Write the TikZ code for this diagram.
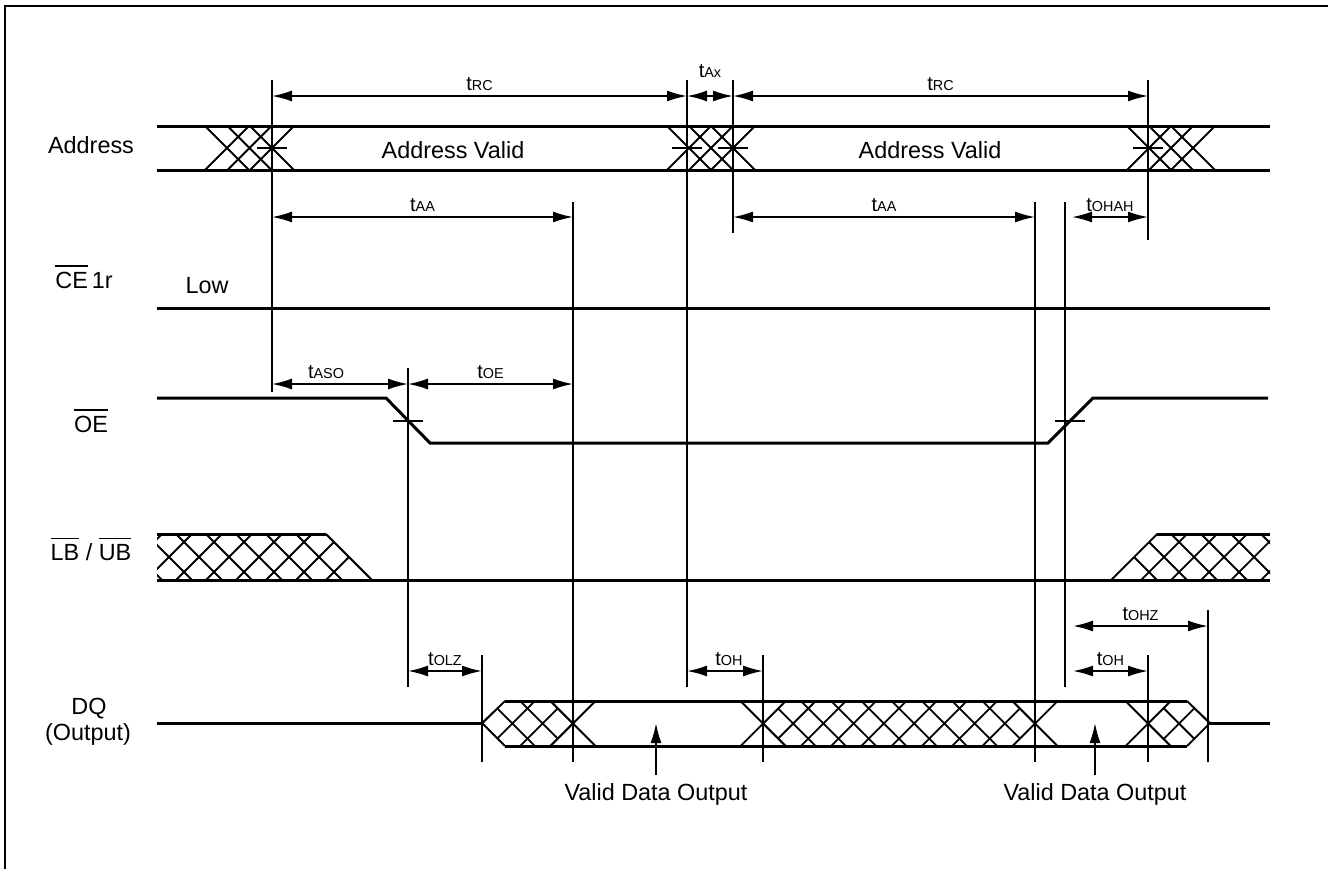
\documentclass[tikz,border=0pt]{standalone}
\usepackage{fontspec}
\setmainfont{Liberation Sans}
\usetikzlibrary{arrows.meta}

% t with small capital index
\newcommand\tsub[1]{t{\fontsize{7.2}{7.2}\selectfont#1}}
% bar over an active-low name
\newcommand\ovl[1]{\setbox0=\hbox{#1}\rlap{\rule[\dimexpr\ht0+2.3pt\relax]{\wd0}{0.9pt}}\box0\relax}
% timing arrow between two guide lines
\newcommand\tdim[6][yshift=3pt]{%
  \coordinate (#2l) at (#3,#5);
  \coordinate (#2r) at (#4,#5);
  \draw[dimarr] (#2l) -- (#2r) node[tlbl, midway, #1] (#2) {\tsub{#6}};}

\begin{document}
\begin{tikzpicture}[
    x=0.5pt, y=-0.5pt,
    sig/.style={line width=1.5pt},
    guide/.style={line width=0.9pt},
    xline/.style={line width=0.9pt},
    tickmark/.style={line width=0.9pt},
    dimarr/.style={line width=0.9pt, {Latex[length=10pt,width=5.5pt]}-{Latex[length=10pt,width=5.5pt]}},
    pointer/.style={line width=0.9pt, -{Latex[length=10pt,width=5.5pt]}},
    signame/.style={anchor=base, inner sep=0pt, font=\fontsize{11.7}{14}\selectfont},
    tlbl/.style={anchor=base, inner sep=0pt, font=\fontsize{10}{10}\selectfont},
    boxline/.style={line width=1.2pt},
  ]
  \useasboundingbox (0,0) rectangle (1328,869);
  \draw[boxline] (5,869) -- (5,6) -- (1328,6);

  % signal names
  \node[signame] (lbladdr) at (91,153) {Address};
  \node[signame] (lblce) at (84,288) {\ovl{CE}\,1r};
  \node[signame] (lbloe) at (91,432) {\ovl{OE}};
  \node[signame] (lbllbub) at (91,560) {\ovl{LB} / \ovl{UB}};
  \node[signame] (lbldq) at (89,714) {DQ};
  \node[signame] (lblout) at (88,740) {(Output)};

  % Address bus
  \foreach \cx in {227,249.5,272,689,711,733,1149,1171,1193}
    \draw[xline] (\cx-22,126) -- (\cx+22,170) (\cx-22,170) -- (\cx+22,126);
  \draw[sig] (157,126) -- (1270,126) (157,170) -- (1270,170);
  \node[signame] (av1) at (453,158) {Address Valid};
  \node[signame] (av2) at (930,158) {Address Valid};

  % CE1r
  \draw[sig] (157,308) -- (1270,308);
  \node[signame] (low) at (207,293) {Low};

  % OE
  \draw[sig] (157,398) -- (386,398) -- (430,443) -- (1048,443) -- (1093,398) -- (1268,398);

  % LB / UB
  \begin{scope}
    \clip (157,534) -- (326,534) -- (372,580) -- (157,580) -- cycle;
    \foreach \cx in {109,139,...,349}
      \draw[xline] (\cx-23,534) -- (\cx+23,580) (\cx-23,580) -- (\cx+23,534);
  \end{scope}
  \begin{scope}
    \clip (1111,580) -- (1157,534) -- (1270,534) -- (1270,580) -- cycle;
    \foreach \cx in {1134,1164,...,1284}
      \draw[xline] (\cx-23,534) -- (\cx+23,580) (\cx-23,580) -- (\cx+23,534);
  \end{scope}
  \draw[xline] (326,534) -- (372,580) (1111,580) -- (1157,534);
  \draw[sig] (157,534) -- (326,534) (1157,534) -- (1270,534) (157,580) -- (1270,580);

  % DQ
  \foreach \a/\b/\n in {482/573/3, 763/1035/9, 1148/1210/2} {
    \begin{scope}
      \clip (\a,723) -- (\a+22.5,701) -- (\b-22.5,701) -- (\b,723) -- (\b-22.5,746) -- (\a+22.5,746) -- cycle;
      \foreach \k in {0,...,\n} {
        \pgfmathsetmacro\cx{\a+\k*(\b-\a)/\n}
        \draw[xline] (\cx-22.5,701) -- (\cx+22.5,746) (\cx-22.5,746) -- (\cx+22.5,701);
      }
    \end{scope}
  }
  \foreach \cx in {573,763,1035,1148}
    \draw[xline] (\cx-22.5,701) -- (\cx+22.5,746) (\cx-22.5,746) -- (\cx+22.5,701);
  \draw[xline] (505,701) -- (482,723) -- (505,746) (1187,701) -- (1210,723) -- (1187,746);
  \draw[sig] (157,723) -- (482,723) (1210,723) -- (1270,723);
  \draw[sig] (505,701) -- (1187,701) (505,746) -- (1187,746);

  % guide lines and crossing ticks
  \foreach \x/\ya/\yb in {272/80/392, 687/80/687, 733/80/233, 1148/80/240,
      573/202/762, 1035/202/762, 1065/202/687, 408/368/687,
      482/655/762, 763/655/762, 1148/655/762, 1208/610/762}
    \draw[guide] (\x,\ya) -- (\x,\yb);
  \foreach \x/\y in {272/148, 687/148, 733/148, 1148/148, 408/421, 1070/421}
    \draw[tickmark] (\x-15,\y) -- (\x+15,\y);

  % timing parameters
  \tdim{rca}{272}{687}{96}{RC}
  \tdim[yshift=9.5pt]{ax}{687}{733}{96}{Ax}
  \tdim{rcb}{733}{1148}{96}{RC}
  \tdim{aaa}{272}{573}{217}{AA}
  \tdim{aab}{733}{1035}{217}{AA}
  \tdim{ohah}{1072}{1148}{217}{OHAH}
  \tdim[yshift=3pt, xshift=-7pt]{aso}{272}{408}{384}{ASO}
  \tdim{oe}{408}{573}{384}{OE}
  \tdim{olz}{408}{482}{671}{OLZ}
  \tdim[yshift=3pt, xshift=2pt]{oha}{687}{763}{671}{OH}
  \tdim{ohz}{1073}{1208}{626}{OHZ}
  \tdim{ohb}{1073}{1148}{671}{OH}

  % valid data pointers
  \node[signame] (vdo1) at (656,800) {Valid Data Output};
  \node[signame] (vdo2) at (1095,800) {Valid Data Output};
  \coordinate (dqa) at (656,723);
  \coordinate (dqb) at (1095,723);
  \draw[pointer] ([yshift=4pt]vdo1.north) -- (dqa);
  \draw[pointer] ([yshift=4pt]vdo2.north) -- (dqb);
\end{tikzpicture}
\end{document}
